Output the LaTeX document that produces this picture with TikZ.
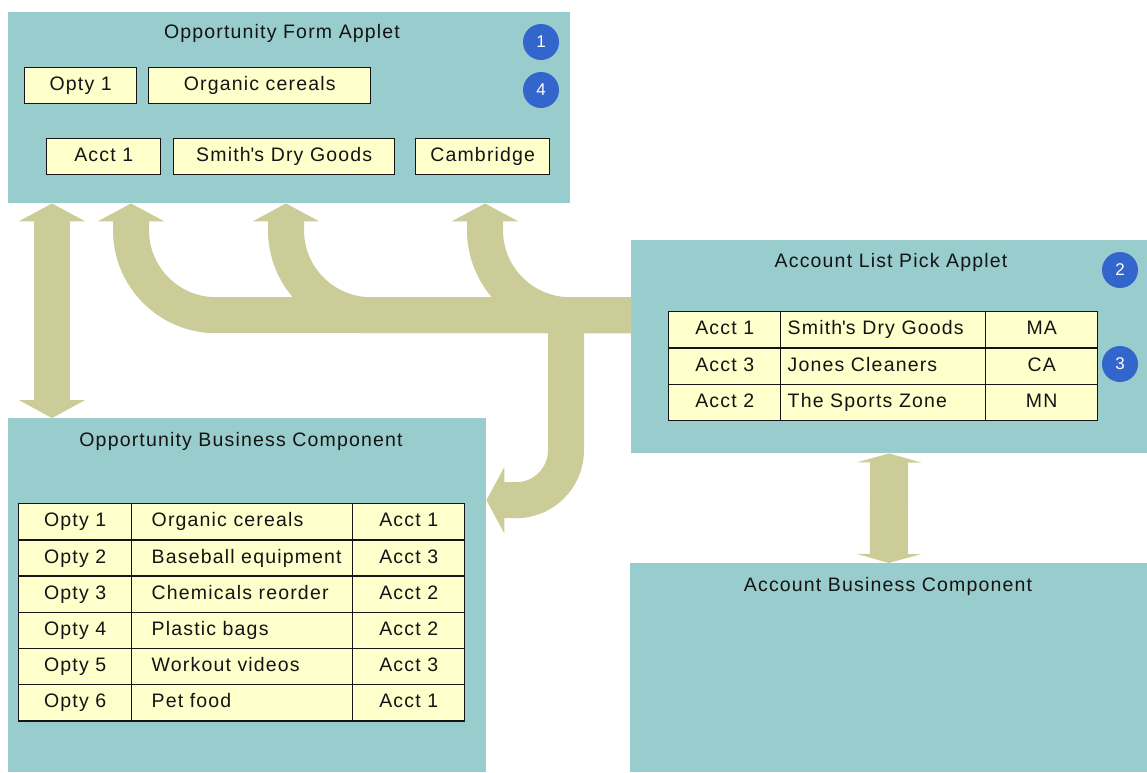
\documentclass[tikz,border=0pt]{standalone}
\usepackage{fontspec}
\setmainfont{Liberation Sans}[LetterSpace=6]
\usetikzlibrary{arrows.meta,positioning}
\definecolor{panel}{HTML}{99CCCC}
\definecolor{band}{HTML}{CCCC99}
\definecolor{fieldbg}{HTML}{FFFFCC}
\definecolor{badgebg}{HTML}{3366CC}
\definecolor{ink}{HTML}{141414}
\begin{document}
\begin{tikzpicture}[x=1pt,y=-1pt,
  font=\fontsize{19.5}{22}\selectfont, text=ink,
  pane/.style={fill=panel, inner sep=0pt, anchor=north west},
  title/.style={inner sep=0pt},
  field/.style={draw=ink, fill=fieldbg, line width=1.4pt, inner sep=0pt,
    anchor=north west, text height=14pt, text depth=4pt},
  cell/.style={field, minimum height=36.2pt},
  leftcell/.style={inner xsep=#1},
  badge/.style={circle, fill=badgebg, text=white, minimum size=36pt,
    inner sep=0pt, font=\fontsize{17}{19}\selectfont},
  flow/.style={draw=band, line width=36pt},
  bandtip/.tip={Triangle[width=66pt,length=18pt]},
  flattip/.tip={Triangle[width=64pt,length=9pt]}]
  \useasboundingbox (0,0) rectangle (1147,772);

  \node[pane, minimum width=562pt, minimum height=191pt] (form) at (8,12) {};
  \node[pane, minimum width=516pt, minimum height=213pt] (pick) at (631,240) {};
  \node[pane, minimum width=478pt, minimum height=354pt] (optybc) at (8,418) {};
  \node[pane, minimum width=517pt, minimum height=209pt] (acctbc) at (630,563) {};

  \node[title] (formtitle) at (282,33) {Opportunity Form Applet};
  \node[title] (picktitle) at (891,262) {Account List Pick Applet};
  \node[title] (optybctitle) at (241,441) {Opportunity Business Component};
  \node[title] (acctbctitle) at (888,586) {Account Business Component};

  \node[badge] (b1) at (541,42) {1};
  \node[badge] (b4) at (541,90) {4};
  \node[badge] (b2) at (1120,270) {2};
  \node[badge] (b3) at (1120,364) {3};

  \node[field, minimum width=112pt, minimum height=36pt] (optyid) at (24,67) {Opty 1};
  \node[field, minimum width=222pt, minimum height=36pt] (optyname) at (148,67) {Organic cereals};
  \node[field, minimum width=114pt, minimum height=36pt] (acctid) at (46,138) {Acct 1};
  \node[field, minimum width=221pt, minimum height=36pt] (acctname) at (173,138) {Smith\textquotesingle s Dry Goods};
  \node[field, minimum width=134pt, minimum height=36pt] (acctcity) at (415,138) {Cambridge};

  \foreach \O/\D/\A [count=\i] in {Opty 1/Organic cereals/Acct 1,
      Opty 2/Baseball equipment/Acct 3, Opty 3/Chemicals reorder/Acct 2,
      Opty 4/Plastic bags/Acct 2, Opty 5/Workout videos/Acct 3,
      Opty 6/Pet food/Acct 1} {
    \pgfmathsetmacro{\Y}{503+36.2*(\i-1)}
    \node[cell, minimum width=113pt] (oid\i) at (18,\Y) {\O};
    \node[cell, leftcell=20pt] (odesc\i) at (131,\Y) {\makebox[181pt][l]{\D}};
    \node[cell, minimum width=112pt] (oacct\i) at (352,\Y) {\A};
  }

  \foreach \A/\N/\S [count=\i] in {Acct 1/Smith\textquotesingle s Dry Goods/MA,
      Acct 3/Jones Cleaners/CA, Acct 2/The Sports Zone/MN} {
    \pgfmathsetmacro{\Y}{311+36.3*(\i-1)}
    \node[cell, minimum width=112pt] (aid\i) at (668,\Y) {\A};
    \node[cell, leftcell=7pt] (aname\i) at (780,\Y) {\makebox[191pt][l]{\N}};
    \node[cell, minimum width=112pt] (astate\i) at (985,\Y) {\S};
  }

  \coordinate (hub) at ([yshift=31.5pt]pick.west);
  \draw[flow, bandtip-bandtip] ([xshift=44pt]form.south west) -- ([xshift=44pt]optybc.north west);
  \foreach \dx in {123,278,477} {
    \draw[flow, rounded corners=85pt, -bandtip] (hub) -| ([xshift=\dx pt]form.south west);
  }
  \draw[flow, rounded corners=50pt, -bandtip] ([xshift=-65pt]hub) |- ([yshift=95pt]optybc.east);
  \draw[flow, line width=38pt, flattip-flattip] (pick.south) -- (acctbc.north);
\end{tikzpicture}
\end{document}
